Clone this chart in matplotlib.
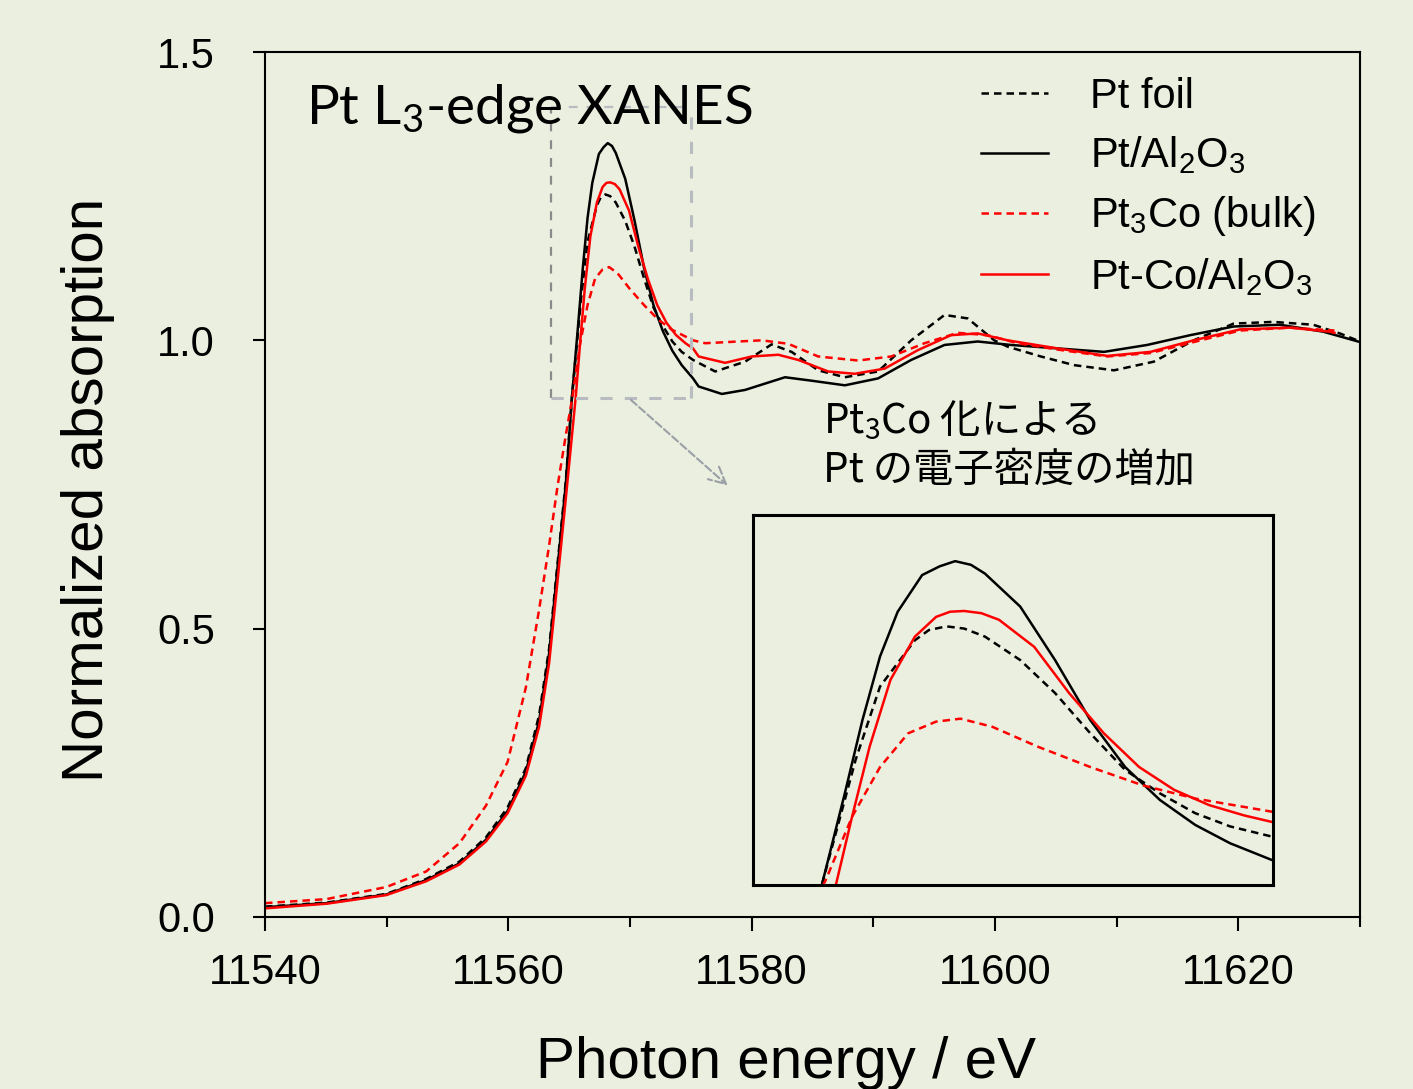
import matplotlib
matplotlib.use("Agg")
import matplotlib.pyplot as plt

plt.rcParams['font.family'] = ['Liberation Sans', 'DejaVu Sans']
plt.rcParams['mathtext.default'] = 'regular'

BG = '#ebefdf'

# Pt/Al2O3 (black solid)
pt_al_e = [11540, 11545.05, 11549.97, 11553.25, 11555.98, 11558.16, 11559.94, 11561.44, 11562.53,
           11563.35, 11564.03, 11564.72, 11565.23, 11565.73, 11566.12, 11566.51, 11566.90, 11567.44,
           11567.83, 11568.17, 11568.52, 11568.83, 11569.61, 11570.38, 11571.16, 11571.93, 11572.70,
           11573.48, 11574.25, 11575.18, 11575.64, 11577.55, 11579.46, 11582.74, 11584.92, 11587.66,
           11590.39, 11593.11, 11595.85, 11598.58, 11601.31, 11605.13, 11608.96, 11612.51, 11616.05,
           11619.61, 11623.43, 11626.98, 11630]
pt_al_y = [0.017, 0.024, 0.039, 0.064, 0.093, 0.134, 0.184, 0.252, 0.340,
           0.457, 0.603, 0.750, 0.902, 1.025, 1.125, 1.212, 1.273, 1.323,
           1.335, 1.342, 1.337, 1.325, 1.280, 1.207, 1.125, 1.061, 1.016,
           0.982, 0.957, 0.934, 0.920, 0.907, 0.914, 0.936, 0.930, 0.922,
           0.934, 0.966, 0.992, 0.998, 0.992, 0.986, 0.980, 0.992, 1.009,
           1.024, 1.027, 1.015, 0.997]

# Pt foil (black dashed)
pt_foil_e = [11540, 11545.05, 11549.97, 11553.25, 11555.98, 11558.16, 11559.94, 11561.44, 11562.53,
             11563.35, 11564.03, 11564.72, 11565.23, 11565.97, 11566.51, 11567.28, 11567.59, 11567.98,
             11568.37, 11568.83, 11569.61, 11570.38, 11571.16, 11571.93, 11572.70, 11573.48, 11574.25,
             11575.18, 11577.0, 11579.46, 11581.64, 11583.28, 11585.47, 11587.66, 11590.39, 11593.11,
             11595.85, 11597.76, 11599.94, 11601.04, 11603.77, 11606.50, 11609.78, 11613.05, 11616.33,
             11619.61, 11622.88, 11626.16, 11628.34, 11630]
pt_foil_y = [0.018, 0.025, 0.040, 0.066, 0.096, 0.138, 0.190, 0.258, 0.350,
             0.465, 0.610, 0.755, 0.902, 1.071, 1.171, 1.234, 1.248, 1.253,
             1.250, 1.239, 1.207, 1.162, 1.107, 1.057, 1.025, 0.998, 0.980,
             0.966, 0.946, 0.963, 0.993, 0.980, 0.948, 0.936, 0.946, 1.000,
             1.044, 1.038, 1.000, 0.989, 0.972, 0.957, 0.948, 0.963, 1.000,
             1.029, 1.032, 1.027, 1.012, 0.998]

# Pt3Co bulk (red dashed)
pt3co_e = [11540, 11545.05, 11549.97, 11553.25, 11555.98, 11558.16, 11559.94, 11561.44, 11562.53,
           11563.35, 11564.03, 11564.72, 11565.31, 11565.89, 11566.51, 11567.13, 11567.75, 11568.29,
           11568.99, 11569.99, 11571.16, 11572.32, 11573.48, 11575.18, 11576.18, 11578.92, 11580.83,
           11583.01, 11585.47, 11588.75, 11591.47, 11594.21, 11596.94, 11599.40, 11601.85, 11605.13,
           11609.23, 11612.78, 11616.33, 11620.15, 11624.24, 11627.9]
pt3co_y = [0.024, 0.031, 0.052, 0.079, 0.128, 0.193, 0.269, 0.398, 0.533,
           0.644, 0.745, 0.835, 0.907, 0.993, 1.061, 1.107, 1.123, 1.127,
           1.116, 1.089, 1.061, 1.036, 1.018, 1.000, 0.995, 0.998, 1.000,
           0.994, 0.972, 0.965, 0.972, 0.995, 1.013, 1.009, 0.995, 0.984,
           0.972, 0.978, 0.997, 1.017, 1.022, 1.017]

# Pt-Co/Al2O3 (red solid)
ptco_al_e = [11540, 11545.05, 11549.97, 11553.25, 11555.98, 11558.16, 11559.94, 11561.44, 11562.53,
             11563.35, 11564.03, 11564.72, 11565.54, 11565.89, 11566.28, 11566.74, 11567.28, 11567.75,
             11568.06, 11568.37, 11568.75, 11569.14, 11569.92, 11570.69, 11571.46, 11572.24, 11573.01,
             11573.79, 11574.56, 11575.18, 11575.64, 11577.82, 11580.0, 11582.19, 11583.83, 11586.29,
             11588.47, 11590.93, 11593.66, 11596.39, 11598.58, 11601.04, 11605.13, 11609.23, 11612.78,
             11616.33, 11620.15, 11624.24, 11627.52, 11627.9]
ptco_al_y = [0.015, 0.023, 0.038, 0.062, 0.091, 0.131, 0.180, 0.245, 0.330,
             0.440, 0.580, 0.725, 0.902, 0.993, 1.089, 1.180, 1.239, 1.266,
             1.273, 1.274, 1.271, 1.262, 1.225, 1.162, 1.107, 1.061, 1.030,
             1.009, 0.995, 0.986, 0.972, 0.961, 0.972, 0.975, 0.966, 0.946,
             0.942, 0.951, 0.983, 1.009, 1.012, 1.000, 0.986, 0.973, 0.980,
             1.000, 1.019, 1.022, 1.015, 1.013]

series = [
    (pt_foil_e, pt_foil_y, 'Pt foil', 'black', (3, 2)),
    (pt_al_e, pt_al_y, 'Pt/Al$_2$O$_3$', 'black', None),
    (pt3co_e, pt3co_y, 'Pt$_3$Co (bulk)', '#ff0000', (3, 2)),
    (ptco_al_e, ptco_al_y, 'Pt-Co/Al$_2$O$_3$', '#ff0000', None),
]

fig = plt.figure(figsize=(14.13, 10.89), dpi=100, facecolor=BG)
ax = fig.add_axes([265 / 1413, 1 - 917 / 1089, 1095 / 1413, 865 / 1089], facecolor=BG)

for e, y, lab, col, dash in series:
    if dash:
        ax.plot(e, y, color=col, lw=1.8, dashes=dash, label=lab)
    else:
        ax.plot(e, y, color=col, lw=1.8, label=lab)

ax.set_xlim(11540, 11630)
ax.set_ylim(0, 1.5)
ax.set_xticks([11540, 11560, 11580, 11600, 11620])
ax.set_xticks(range(11550, 11631, 20), minor=True)
ax.set_yticks([0.0, 0.5, 1.0, 1.5])
ax.set_yticklabels(['0.0', '0.5', '1.0', '1.5'])
ax.tick_params(axis='x', which='major', length=10, width=1.5, labelsize=30, pad=16)
ax.tick_params(axis='x', which='minor', length=7, width=1.5)
ax.tick_params(axis='y', length=9, width=1.5, labelsize=30, pad=27)
for s in ax.spines.values():
    s.set_linewidth(1.5)

ax.set_xlabel('Photon energy / eV', fontsize=42)
ax.xaxis.set_label_coords(0.476, -0.137)
ax.set_ylabel('Normalized absorption', fontsize=42)
ax.yaxis.set_label_coords(-0.137, 0.494)

leg = ax.legend(loc='upper right', bbox_to_anchor=(0.993, 1.015), frameon=False, fontsize=30,
                handlelength=1.6, handletextpad=1.0, labelspacing=0.43)

ax.text(0.037, 0.935, 'Pt L$_3$-edge XANES', transform=ax.transAxes, fontsize=39.5,
        family=['Lato', 'DejaVu Sans'], va='center', ha='left')

# zoom box and arrow
box_x = [11563.5, 11575.0]
box_y = [0.9, 1.405]
ax.plot([box_x[0], box_x[0]], box_y, color='#8a8a8a', lw=1.6, dashes=(4, 4))
ax.plot(box_x, [box_y[1], box_y[1]], color='#b8bcc0', lw=1.6, dashes=(4, 4))
ax.plot([box_x[1], box_x[1]], box_y, color='#b8bcc0', lw=2.2, dashes=(4, 4))
ax.plot(box_x, [box_y[0], box_y[0]], color='#b8bcc0', lw=2.2, dashes=(4, 4))
ax.annotate('', xy=(11578.2, 0.745), xytext=(11569.9, 0.9),
            arrowprops=dict(arrowstyle='->', color='#9aa0a6', lw=1.5, linestyle='--',
                            mutation_scale=30))

fig.text(823 / 1413, 1 - 420 / 1089, 'Pt$_3$Co 化による', fontsize=29,
         family=['Noto Sans CJK JP', 'DejaVu Sans'], va='center', ha='left')
fig.text(823 / 1413, 1 - 470 / 1089, 'Pt の電子密度の増加', fontsize=29,
         family=['Noto Sans CJK JP', 'DejaVu Sans'], va='center', ha='left')

# inset
axi = fig.add_axes([753 / 1413, 1 - 885 / 1089, 520 / 1413, 370 / 1089], facecolor=BG)
for e, y, lab, col, dash in series:
    if dash:
        axi.plot(e, y, color=col, lw=1.8, dashes=dash)
    else:
        axi.plot(e, y, color=col, lw=1.8)
axi.set_xlim(11563.7, 11575.2)
axi.set_ylim(0.9, 1.405)
axi.set_xticks([])
axi.set_yticks([])
for s in axi.spines.values():
    s.set_linewidth(2.2)

fig.savefig('out.png', dpi=100, facecolor=BG)
